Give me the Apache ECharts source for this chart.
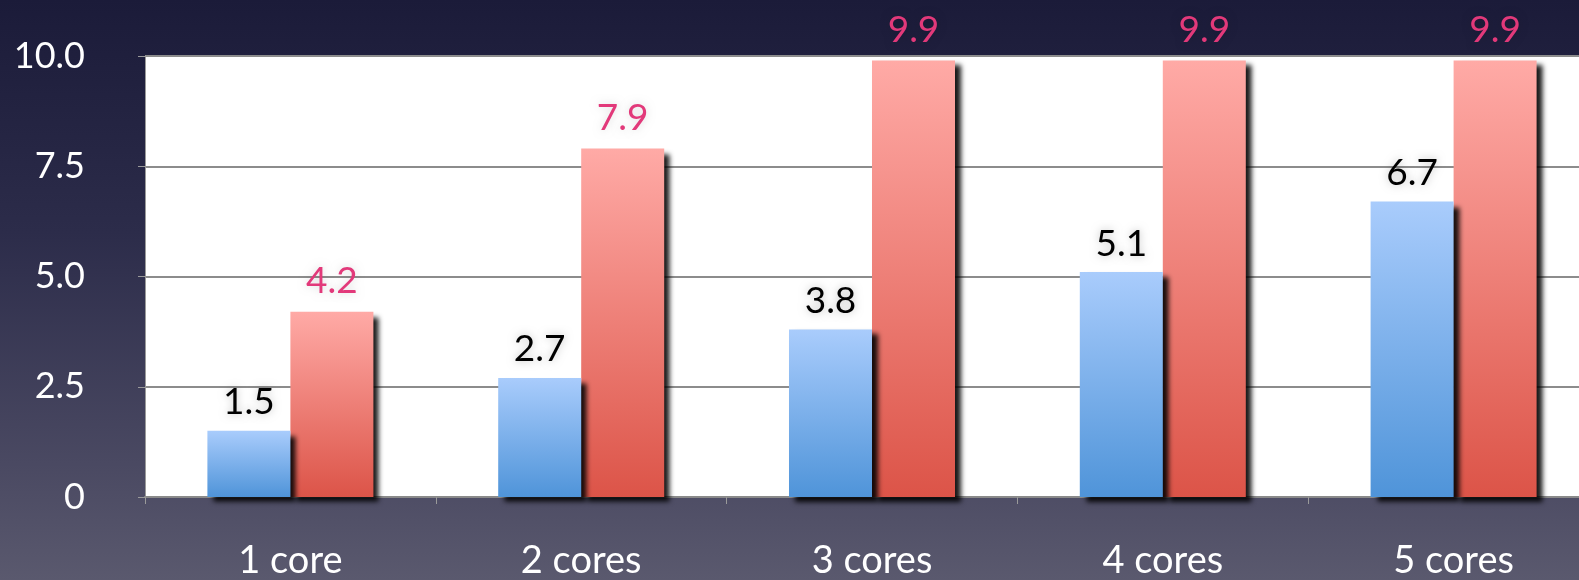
<!DOCTYPE html>
<html>
<head>
<meta charset="utf-8">
<script src="https://cdn.jsdelivr.net/npm/echarts@6/dist/echarts.min.js"></script>
<style>
html,body{margin:0;padding:0;width:1579px;height:580px;overflow:hidden;}
body{background:linear-gradient(to bottom,#1b1b39 0%,#2c2c4a 40%,#4a4962 80%,#5a596e 100%);}
#chart{width:1600px;height:580px;}
</style>
</head>
<body>
<div id="chart"></div>
<script>
const categories = ['1 core', '2 cores', '3 cores', '4 cores', '5 cores'];
const blueValues = [1.5, 2.7, 3.8, 5.1, 6.7];
const redValues = [4.2, 7.9, 9.9, 9.9, 9.9];
const yTickLabels = ['0', '2.5', '5.0', '7.5', '10.0'];

const font = 'Lato, "Open Sans", sans-serif';
const chart = echarts.init(document.getElementById('chart'));

function grad(top, bottom) {
  return new echarts.graphic.LinearGradient(0, 0, 0, 1, [
    {offset: 0, color: top}, {offset: 1, color: bottom}
  ]);
}

const barShadow = {
  shadowColor: 'rgba(0,0,0,0.9)',
  shadowBlur: 5,
  shadowOffsetX: 6,
  shadowOffsetY: 5
};

chart.setOption({
  backgroundColor: 'transparent',
  animation: false,
  grid: {
    left: 145, top: 56, bottom: 83, right: 1,
    show: true, backgroundColor: '#ffffff', borderWidth: 0
  },
  xAxis: {
    type: 'category',
    data: categories,
    axisLine: {lineStyle: {color: '#8a8a8a', width: 2}},
    axisTick: {show: true, length: 7, lineStyle: {color: '#9a9a9a', width: 1}},
    axisLabel: {color: '#ffffff', fontSize: 38, fontFamily: font, margin: 45}
  },
  yAxis: {
    type: 'value',
    min: 0, max: 10, interval: 2.5,
    axisLine: {show: true, lineStyle: {color: '#9a9a9a', width: 1}},
    axisTick: {show: true, length: 7, lineStyle: {color: '#9a9a9a'}},
    splitLine: {show: true, lineStyle: {color: '#8c8c8c', width: 2}},
    axisLabel: {
      color: '#ffffff', fontSize: 36, fontFamily: font, margin: 60,
      formatter: function (v) { return yTickLabels[Math.round(v / 2.5)]; }
    }
  },
  series: [
    {
      type: 'bar',
      data: blueValues,
      barWidth: 83,
      barGap: '0%',
      z: 3,
      itemStyle: Object.assign({color: grad('#a9ccfc', '#4f94d9')}, barShadow),
      label: {
        show: true, position: 'top', distance: 10,
        color: '#000000', fontSize: 37, fontFamily: font,
        textShadowColor: 'rgba(0,0,0,0.25)', textShadowBlur: 8,
        formatter: function (p) { return p.value.toFixed(1); }
      }
    },
    {
      type: 'bar',
      data: redValues,
      barWidth: 83,
      barGap: '0%',
      z: 2,
      itemStyle: Object.assign({color: grad('#ffaaa6', '#dc5448')}, barShadow),
      label: {
        show: true, position: 'top', distance: 12,
        color: '#e2397a', fontSize: 37, fontFamily: font,
        textShadowColor: 'rgba(0,0,0,0.15)', textShadowBlur: 8,
        formatter: function (p) { return p.value.toFixed(1); }
      }
    }
  ]
});
</script>
</body>
</html>
